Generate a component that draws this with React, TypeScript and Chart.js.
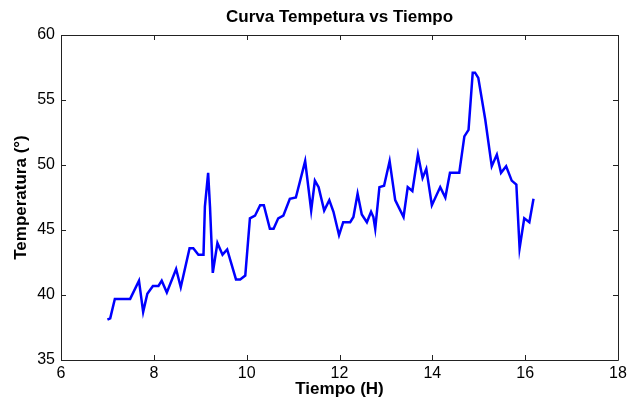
import React, { useEffect, useRef } from "react";
import { Chart, registerables } from "chart.js";

Chart.register(...registerables);

const tiempo = [
  7.0, 7.06, 7.16, 7.49, 7.68, 7.77, 7.86, 7.98, 8.1, 8.17, 8.28, 8.48, 8.58, 8.77, 8.85, 8.96, 9.07, 9.1, 9.17, 9.21,
  9.27, 9.37, 9.48, 9.58, 9.77, 9.86, 9.97, 10.07, 10.18, 10.29, 10.37, 10.5, 10.58, 10.68, 10.79, 10.93, 11.06, 11.26,
  11.39, 11.47, 11.55, 11.67, 11.78, 11.87, 11.99, 12.08, 12.23, 12.3, 12.39, 12.48, 12.59, 12.68, 12.73, 12.77, 12.86,
  12.96, 13.08, 13.2, 13.38, 13.47, 13.57, 13.69, 13.79, 13.87, 13.99, 14.17, 14.28, 14.38, 14.58, 14.69, 14.78, 14.87,
  14.92, 14.99, 15.14, 15.28, 15.39, 15.48, 15.59, 15.71, 15.81, 15.88, 15.98, 16.09, 16.18,
];
const temperatura = [
  38.1, 38.2, 39.7, 39.7, 41.1, 38.7, 40.1, 40.7, 40.7, 41.1, 40.2, 42.0, 40.6, 43.6, 43.6, 43.1, 43.1, 46.8, 49.4, 46.8,
  41.7, 44.0, 43.1, 43.5, 41.2, 41.2, 41.5, 45.9, 46.1, 46.9, 46.9, 45.1, 45.1, 45.9, 46.1, 47.4, 47.5, 50.3,
  46.5, 48.8, 48.3, 46.5, 47.3, 46.4, 44.6, 45.6, 45.6, 46.0, 47.8, 46.2, 45.6, 46.4, 46.0, 45.1, 48.3,
  48.4, 50.3, 47.3, 46.0, 48.3, 48.0, 50.8, 49.0, 49.7, 46.9, 48.3, 47.5, 49.4, 49.4, 52.2, 52.7, 57.1,
  57.1, 56.7, 53.5, 49.9, 50.8, 49.4, 49.9, 48.8, 48.5, 43.6, 45.9, 45.6, 47.4,
];
const xTicks = [6, 8, 10, 12, 14, 16, 18];
const yTicks = [35, 40, 45, 50, 55, 60];
const titulo = "Curva Tempetura vs Tiempo";
const xTitulo = "Tiempo (H)";
const yTitulo = "Temperatura (°)";

const FONT = "'Liberation Sans', Arial, sans-serif";

const boxPlugin = {
  id: "matlabBox",
  afterDraw(chart: any) {
    const { ctx, chartArea } = chart;
    const { left, right, top, bottom } = chartArea;
    const xs = chart.scales.x;
    const ys = chart.scales.y;
    ctx.save();
    ctx.strokeStyle = "#222";
    ctx.lineWidth = 1;
    ctx.beginPath();
    ctx.rect(Math.round(left) + 0.5, Math.round(top) + 0.5, Math.round(right - left), Math.round(bottom - top));
    ctx.stroke();
    const len = 5;
    ctx.beginPath();
    xTicks.forEach((v) => {
      const px = Math.round(xs.getPixelForValue(v)) + 0.5;
      ctx.moveTo(px, bottom);
      ctx.lineTo(px, bottom - len);
      ctx.moveTo(px, top);
      ctx.lineTo(px, top + len);
    });
    yTicks.forEach((v) => {
      const py = Math.round(ys.getPixelForValue(v)) + 0.5;
      ctx.moveTo(left, py);
      ctx.lineTo(left + len, py);
      ctx.moveTo(right, py);
      ctx.lineTo(right - len, py);
    });
    ctx.stroke();
    ctx.fillStyle = "#000";
    ctx.font = `bold 17px ${FONT}`;
    ctx.textAlign = "center";
    ctx.textBaseline = "middle";
    ctx.fillText(titulo, (left + right) / 2, 17);
    ctx.restore();
  },
};

export default function App() {
  const ref = useRef<HTMLCanvasElement>(null);
  useEffect(() => {
    if (!ref.current) return;
    const chart = new Chart(ref.current, {
      type: "scatter",
      data: {
        datasets: [
          {
            data: tiempo.map((t, i) => ({ x: t, y: temperatura[i] })),
            showLine: true,
            borderColor: "#0000FF",
            borderWidth: 2.5,
            pointRadius: 0,
            tension: 0,
          },
        ],
      },
      options: {
        animation: false,
        responsive: false,
        layout: { padding: { top: 35, right: 20, bottom: 0, left: 0 } },
        plugins: { legend: { display: false }, tooltip: { enabled: false }, title: { display: false } },
        scales: {
          x: {
            type: "linear",
            min: 6,
            max: 18,
            afterBuildTicks: (s: any) => {
              s.ticks = xTicks.map((v) => ({ value: v }));
            },
            afterFit: (s: any) => {
              s.height = 43;
            },
            grid: { display: false, drawTicks: false },
            border: { display: false },
            ticks: { color: "#000", font: { family: FONT, size: 16 }, padding: 4, maxRotation: 0 },
            title: {
              display: true,
              text: xTitulo,
              color: "#000",
              font: { family: FONT, size: 17, weight: "bold" },
              padding: { top: 0, bottom: 3 },
            },
          },
          y: {
            type: "linear",
            min: 35,
            max: 60,
            afterBuildTicks: (s: any) => {
              s.ticks = yTicks.map((v) => ({ value: v }));
            },
            afterFit: (s: any) => {
              s.width = 61;
            },
            grid: { display: false, drawTicks: false },
            border: { display: false },
            ticks: { color: "#000", font: { family: FONT, size: 16 }, padding: 6 },
            title: {
              display: true,
              text: yTitulo,
              color: "#000",
              font: { family: FONT, size: 17, weight: "bold" },
              padding: { top: 11, bottom: 0 },
            },
          },
        },
      },
      plugins: [boxPlugin],
    });
    return () => chart.destroy();
  }, []);
  return (
    <div style={{ position: "fixed", left: 0, top: 0, width: 638, height: 403, background: "#fff" }}>
      <canvas ref={ref} width={638} height={403} style={{ display: "block" }} />
    </div>
  );
}
